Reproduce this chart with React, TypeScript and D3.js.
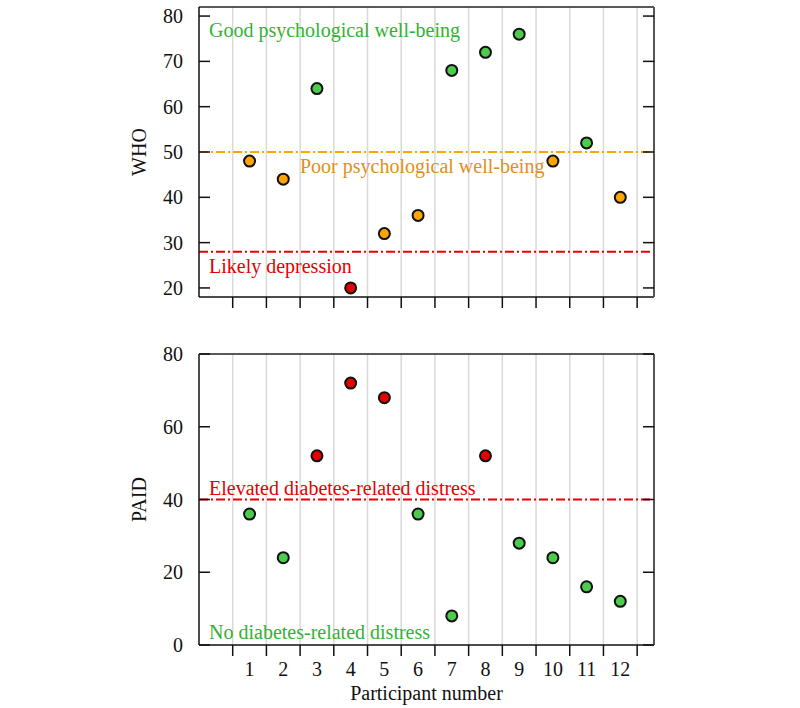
import * as d3 from 'd3';
import React from 'react';

const participants = [1, 2, 3, 4, 5, 6, 7, 8, 9, 10, 11, 12];
const whoScores = [48, 44, 64, 20, 32, 36, 68, 72, 76, 48, 52, 40];
const paidScores = [36, 24, 52, 72, 68, 36, 8, 52, 28, 24, 16, 12];
const whoTicks = [20, 30, 40, 50, 60, 70, 80];
const paidTicks = [0, 20, 40, 60, 80];

const GREEN = '#4ccb4c';
const ORANGE = '#ffa500';
const RED = '#e60000';
const FONT = 'Liberation Serif, DejaVu Serif, serif';
const DASH = '9,3,2,3';
const FS = 20;

const W = 800, H = 708;
const left = 199, right = 654;

const x = d3.scaleLinear().domain([-0.5, 13]).range([left, right]);
const gridPos = d3.range(0.5, 13, 1);

const Panel = ({ top, bottom, domain, ticks, values, label, color, lines, notes, showXLabels }) => {
  const y = d3.scaleLinear().domain(domain).range([bottom, top]);
  const midY = (top + bottom) / 2;
  return (
    <g>
      {gridPos.map(g => (
        <line key={'g' + g} x1={x(g)} x2={x(g)} y1={top} y2={bottom} stroke="#d9d9d9" strokeWidth={1.5} />
      ))}
      {lines.map(l => (
        <line key={'l' + l.v} x1={left} x2={right} y1={y(l.v)} y2={y(l.v)}
          stroke={l.c} strokeWidth={2} strokeDasharray={DASH} />
      ))}
      {notes.map(n => (
        <text key={n.t} x={n.x} y={n.y} fill={n.c} fontSize={FS} fontFamily={FONT}>{n.t}</text>
      ))}
      {/* frame */}
      <line x1={left} x2={right} y1={top} y2={top} stroke="#222" strokeWidth={1.5} />
      <line x1={left} x2={right} y1={bottom} y2={bottom} stroke="#111" strokeWidth={1.5} />
      <line x1={left} x2={left} y1={top} y2={bottom} stroke="#111" strokeWidth={1.5} />
      <line x1={right} x2={right} y1={top} y2={bottom} stroke="#555" strokeWidth={2} />
      {ticks.map(t => (
        <g key={'t' + t}>
          <line x1={left} x2={left + 11} y1={y(t)} y2={y(t)} stroke="#111" strokeWidth={1.5} />
          <line x1={right - 11} x2={right} y1={y(t)} y2={y(t)} stroke="#111" strokeWidth={1.5} />
          <text x={left - 16} y={y(t)} dy="0.35em" textAnchor="end" fontSize={FS} fontFamily={FONT} fill="#111">{t}</text>
        </g>
      ))}
      {gridPos.map(g => (
        <line key={'xt' + g} x1={x(g)} x2={x(g)} y1={bottom} y2={bottom + 11} stroke="#111" strokeWidth={1.5} />
      ))}
      {showXLabels && participants.map(p => (
        <text key={'xl' + p} x={x(p)} y={bottom + 31} textAnchor="middle" fontSize={FS} fontFamily={FONT} fill="#111">{p}</text>
      ))}
      {values.map((v, i) => (
        <circle key={'p' + i} cx={x(participants[i])} cy={y(v)} r={5.5} fill={color(v)} stroke="#111" strokeWidth={2} />
      ))}
      <text transform={`translate(${146},${midY}) rotate(-90)`} textAnchor="middle" fontSize={FS} fontFamily={FONT} fill="#111">{label}</text>
    </g>
  );
};

export default function App() {
  return (
    <svg width={W} height={H} style={{ display: 'block', position: 'absolute', left: 0, top: 0, background: '#fff' }}>
      <Panel top={7} bottom={297} domain={[18, 82]} ticks={whoTicks} values={whoScores} label="WHO"
        color={v => (v >= 50 ? GREEN : v > 28 ? ORANGE : RED)}
        lines={[{ v: 50, c: ORANGE }, { v: 28, c: RED }]}
        notes={[
          { t: 'Good psychological well-being', x: 209, y: 37, c: '#33b233' },
          { t: 'Poor psychological well-being', x: 300, y: 173, c: '#e0901a' },
          { t: 'Likely depression', x: 209, y: 273, c: RED },
        ]}
        showXLabels={false} />
      <Panel top={354} bottom={645} domain={[0, 80]} ticks={paidTicks} values={paidScores} label="PAID"
        color={v => (v > 40 ? RED : GREEN)}
        lines={[{ v: 40, c: RED }]}
        notes={[
          { t: 'Elevated diabetes-related distress', x: 209, y: 495, c: RED },
          { t: 'No diabetes-related distress', x: 209, y: 639, c: '#33b233' },
        ]}
        showXLabels={true} />
      <text x={(left + right) / 2} y={700} textAnchor="middle" fontSize={FS} fontFamily={FONT} fill="#111">Participant number</text>
    </svg>
  );
}
